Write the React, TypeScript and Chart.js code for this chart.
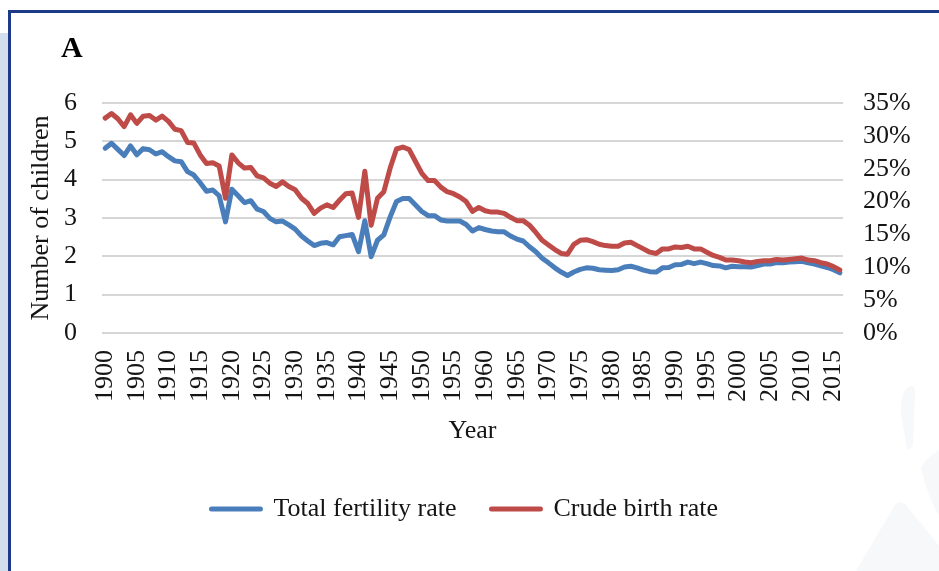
import React, { useEffect, useRef } from 'react';
import { Chart, registerables } from 'chart.js';

Chart.register(...registerables);

// ---------- data ----------
const YEARS = [
  1900, 1901, 1902, 1903, 1904, 1905, 1906, 1907, 1908, 1909,
  1910, 1911, 1912, 1913, 1914, 1915, 1916, 1917, 1918, 1919,
  1920, 1921, 1922, 1923, 1924, 1925, 1926, 1927, 1928, 1929,
  1930, 1931, 1932, 1933, 1934, 1935, 1936, 1937, 1938, 1939,
  1940, 1941, 1942, 1943, 1944, 1945, 1946, 1947, 1948, 1949,
  1950, 1951, 1952, 1953, 1954, 1955, 1956, 1957, 1958, 1959,
  1960, 1961, 1962, 1963, 1964, 1965, 1966, 1967, 1968, 1969,
  1970, 1971, 1972, 1973, 1974, 1975, 1976, 1977, 1978, 1979,
  1980, 1981, 1982, 1983, 1984, 1985, 1986, 1987, 1988, 1989,
  1990, 1991, 1992, 1993, 1994, 1995, 1996, 1997, 1998, 1999,
  2000, 2001, 2002, 2003, 2004, 2005, 2006, 2007, 2008, 2009,
  2010, 2011, 2012, 2013, 2014, 2015, 2016,
];

// Total fertility rate (number of children)
const TOTAL_FERTILITY_RATE = [
  4.82, 4.95, 4.79, 4.63, 4.88, 4.65, 4.81, 4.78, 4.67, 4.73,
  4.60, 4.49, 4.47, 4.21, 4.12, 3.92, 3.70, 3.73, 3.58, 2.90,
  3.75, 3.58, 3.40, 3.45, 3.23, 3.17, 2.99, 2.90, 2.92, 2.82,
  2.71, 2.53, 2.40, 2.28, 2.34, 2.36, 2.30, 2.51, 2.54, 2.57,
  2.12, 2.93, 1.99, 2.42, 2.56, 3.03, 3.43, 3.51, 3.51, 3.34,
  3.17, 3.06, 3.06, 2.95, 2.92, 2.92, 2.92, 2.83, 2.66, 2.75,
  2.70, 2.66, 2.64, 2.64, 2.53, 2.45, 2.40, 2.25, 2.12, 1.95,
  1.83, 1.70, 1.59, 1.50, 1.59, 1.66, 1.70, 1.69, 1.65, 1.64,
  1.63, 1.65, 1.72, 1.74, 1.70, 1.64, 1.60, 1.59, 1.70, 1.71,
  1.78, 1.79, 1.85, 1.81, 1.85, 1.81, 1.76, 1.75, 1.70, 1.74,
  1.73, 1.73, 1.72, 1.76, 1.80, 1.80, 1.84, 1.83, 1.85, 1.86,
  1.87, 1.83, 1.80, 1.75, 1.71, 1.65, 1.57,
];

// Crude birth rate (%)
const CRUDE_BIRTH_RATE = [
  32.7, 33.4, 32.6, 31.4, 33.2, 31.9, 33.0, 33.1, 32.4, 33.0,
  32.2, 31.0, 30.8, 29.0, 28.9, 27.1, 25.8, 25.9, 25.4, 20.5,
  27.1, 25.9, 25.1, 25.2, 23.9, 23.6, 22.8, 22.3, 23.0, 22.3,
  21.8, 20.5, 19.7, 18.2, 19.0, 19.5, 19.1, 20.2, 21.2, 21.3,
  17.6, 24.6, 16.4, 20.5, 21.5, 25.1, 28.0, 28.3, 27.9, 26.1,
  24.3, 23.2, 23.2, 22.2, 21.5, 21.2, 20.7, 20.0, 18.5, 19.1,
  18.6, 18.4, 18.4, 18.2, 17.6, 17.1, 17.1, 16.4, 15.3, 14.1,
  13.4, 12.7, 12.1, 12.0, 13.5, 14.1, 14.2, 13.9, 13.5, 13.3,
  13.2, 13.2, 13.7, 13.8, 13.3, 12.8, 12.3, 12.1, 12.8, 12.8,
  13.1, 13.0, 13.2, 12.8, 12.8, 12.3, 11.8, 11.5, 11.1, 11.1,
  11.0, 10.8, 10.7, 10.9, 11.0, 11.0, 11.2, 11.1, 11.2, 11.3,
  11.4, 11.1, 11.0, 10.7, 10.5, 10.1, 9.6,
];

const X_TICK_LABELS = [
  '1900', '1905', '1910', '1915', '1920', '1925', '1930', '1935',
  '1940', '1945', '1950', '1955', '1960', '1965', '1970', '1975',
  '1980', '1985', '1990', '1995', '2000', '2005', '2010', '2015',
];

const SERIES_NAMES = ['Total fertility rate', 'Crude birth rate'];
const LEFT_AXIS_TITLE = 'Number of children';
const X_AXIS_TITLE = 'Year';
const PANEL_LABEL = 'A';

// ---------- styles ----------
const FONT = '"Liberation Serif", "Times New Roman", serif';
const TEXT_COLOR = '#141414';
const BLUE = '#4a7ebb';
const RED = '#be4b48';
const LINE_W = 5;

const panelLabelPlugin = {
  id: 'panelLabel',
  afterDraw(chart: any) {
    const ctx = chart.ctx;
    ctx.save();
    ctx.font = `bold 30px ${FONT}`;
    ctx.fillStyle = '#000';
    ctx.textBaseline = 'alphabetic';
    ctx.textAlign = 'left';
    ctx.fillText(PANEL_LABEL, 61, 57);
    ctx.restore();
  },
};

export default function App() {
  const canvasRef = useRef<HTMLCanvasElement | null>(null);

  useEffect(() => {
    if (!canvasRef.current) return;
    const chart = new Chart(canvasRef.current, {
      type: 'line',
      data: {
        labels: YEARS.map(String),
        datasets: [
          {
            label: SERIES_NAMES[0],
            data: TOTAL_FERTILITY_RATE,
            yAxisID: 'y',
            borderColor: BLUE,
            backgroundColor: BLUE,
            borderWidth: LINE_W,
            pointRadius: 0,
            pointHoverRadius: 0,
            pointBorderWidth: LINE_W,
            pointBorderColor: BLUE,
            borderCapStyle: 'round',
            borderJoinStyle: 'round',
            tension: 0,
            order: 1,
          },
          {
            label: SERIES_NAMES[1],
            data: CRUDE_BIRTH_RATE,
            yAxisID: 'y2',
            borderColor: RED,
            backgroundColor: RED,
            borderWidth: LINE_W,
            pointRadius: 0,
            pointHoverRadius: 0,
            pointBorderWidth: LINE_W,
            pointBorderColor: RED,
            borderCapStyle: 'round',
            borderJoinStyle: 'round',
            tension: 0,
            order: 0,
          },
        ],
      },
      options: {
        responsive: false,
        animation: false,
        devicePixelRatio: 1,
        events: [],
        layout: { padding: { left: 10, right: 19.5, top: 103, bottom: 39 } },
        plugins: {
          tooltip: { enabled: false },
          legend: {
            position: 'bottom',
            labels: {
              usePointStyle: true,
              pointStyle: 'line',
              pointStyleWidth: 49,
              padding: 35,
              color: TEXT_COLOR,
              font: { family: FONT, size: 26 },
              sort: (a: any, b: any) => a.datasetIndex - b.datasetIndex,
              generateLabels: (c: any) =>
                Chart.defaults.plugins.legend.labels
                  .generateLabels(c)
                  .map((l: any) => ({ ...l, lineCap: 'round', lineWidth: LINE_W })),
            },
          },
        },
        scales: {
          x: {
            type: 'category',
            offset: true,
            grid: { display: false },
            border: { display: false },
            ticks: {
              autoSkip: false,
              minRotation: 90,
              maxRotation: 90,
              padding: 9,
              color: TEXT_COLOR,
              font: { family: FONT, size: 26 },
              callback: (_v: any, i: number) => {
                const s = String(YEARS[i]);
                return X_TICK_LABELS.includes(s) ? s : null;
              },
            },
            title: {
              display: true,
              text: X_AXIS_TITLE,
              color: TEXT_COLOR,
              font: { family: FONT, size: 26 },
              padding: { top: 0, bottom: 14 },
            },
            afterFit: (s: any) => {
              s.height = 128;
            },
          },
          y: {
            position: 'left',
            min: 0,
            max: 6,
            grid: { color: '#d6d6d6', lineWidth: 2, drawTicks: false },
            border: { display: false },
            ticks: {
              stepSize: 1,
              autoSkip: false,
              padding: 25,
              color: TEXT_COLOR,
              font: { family: FONT, size: 26 },
            },
            title: {
              display: true,
              text: LEFT_AXIS_TITLE,
              color: TEXT_COLOR,
              font: { family: FONT, size: 26 },
              padding: { top: 16, bottom: 0 },
            },
            afterFit: (s: any) => {
              s.width = 92;
            },
          },
          y2: {
            position: 'right',
            min: 0,
            max: 35,
            grid: { display: false, drawTicks: false },
            border: { display: false },
            ticks: {
              stepSize: 5,
              autoSkip: false,
              padding: 20,
              color: TEXT_COLOR,
              font: { family: FONT, size: 26 },
              callback: (v: any) => `${v}%`,
            },
            afterFit: (s: any) => {
              s.width = 76.5;
            },
          },
        },
      },
      plugins: [panelLabelPlugin],
    } as any);
    return () => chart.destroy();
  }, []);

  return (
    <div
      style={{
        position: 'fixed',
        left: 0,
        top: 0,
        width: 939,
        height: 571,
        background: '#ffffff',
        overflow: 'hidden',
      }}
    >
      <div style={{ position: 'absolute', left: 0, top: 33, width: 8, height: 538, background: '#d2deed' }} />
      <div style={{ position: 'absolute', left: 8, top: 10, width: 931, height: 2.5, background: '#1c3a87' }} />
      <div style={{ position: 'absolute', left: 8, top: 10, width: 2.5, height: 561, background: '#1c3a87' }} />
      <svg
        width={939}
        height={571}
        style={{ position: 'absolute', left: 0, top: 0 }}
      >
        <path d="M904 392 Q907 386 912 386 Q916 387 915 394 L913 444 Q911 451 907 449 L901 414 Q900 401 904 392 Z" fill="#f7f8fa" />
        <path d="M921 468 Q926 458 939 450 L939 515 Q929 500 921 468 Z" fill="#f7f8fa" />
        <path d="M895 505 Q900 499 906 505 L939 546 L939 571 L856 571 Z" fill="#f7f8fa" />
      </svg>
      <canvas
        ref={canvasRef}
        width={939}
        height={571}
        style={{ position: 'absolute', left: 0, top: 0, width: 939, height: 571 }}
      />
    </div>
  );
}
